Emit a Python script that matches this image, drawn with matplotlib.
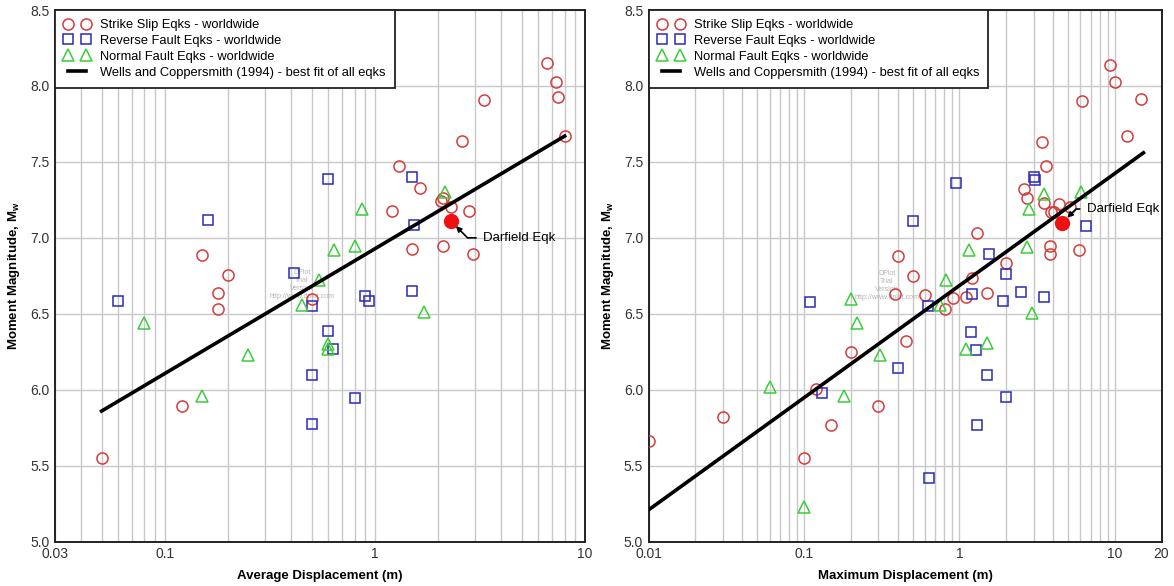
import matplotlib
matplotlib.use("Agg")
import matplotlib.pyplot as plt
from matplotlib.ticker import FixedLocator, FixedFormatter, LogLocator, NullFormatter

plt.rcParams['font.family'] = ['Liberation Sans', 'DejaVu Sans']

# ---- Average displacement (left panel) ----
ad_ss_x = [0.05, 0.121, 0.15, 0.20, 0.18, 0.18, 0.50, 1.30, 1.64, 2.10, 2.06, 2.31,
           2.81, 1.205, 1.50, 2.11, 2.92, 6.57, 7.28, 7.4, 3.32, 8.06, 2.60]
ad_ss_y = [5.55, 5.89, 6.885, 6.757, 6.636, 6.532, 6.60, 7.476, 7.326, 7.26, 7.24, 7.205,
           7.18, 7.18, 6.93, 6.947, 6.894, 8.148, 8.027, 7.926, 7.908, 7.672, 7.637]
ad_rev_x = [0.60, 0.16, 0.06, 0.41, 0.503, 0.60, 1.50, 1.53, 0.90, 0.933, 1.505,
            0.63, 0.50, 0.80, 0.50]
ad_rev_y = [7.386, 7.116, 6.585, 6.77, 6.554, 6.385, 7.40, 7.083, 6.618, 6.585, 6.647,
            6.266, 6.10, 5.946, 5.772]
ad_nor_x = [0.08, 0.64, 0.80, 0.864, 0.543, 0.45, 0.60, 0.595, 2.15, 1.71, 0.25, 0.15]
ad_nor_y = [6.44, 6.92, 6.945, 7.19, 6.72, 6.56, 6.30, 6.268, 7.30, 6.515, 6.23, 5.96]
ad_fit_x = [0.05, 8.0]
ad_fit_y = [5.86, 7.67]
ad_darfield = (2.30, 7.11)

# ---- Maximum displacement (right panel) ----
md_ss_x = [0.01, 0.03, 0.10, 0.12, 0.15, 0.20, 0.30, 0.384, 0.40, 0.45, 0.50, 0.60,
           0.81, 0.906, 1.10, 1.21, 1.30, 1.51, 2.0, 2.61, 2.72, 3.42, 3.53, 3.63,
           3.84, 3.84, 3.88, 4.07, 4.38, 5.16, 5.93, 6.14, 9.34, 10.07, 12.07, 14.8]
md_ss_y = [5.666, 5.82, 5.55, 6.003, 5.77, 6.25, 5.893, 6.632, 6.88, 6.32, 6.75, 6.623,
           6.532, 6.603, 6.614, 6.733, 7.033, 6.64, 6.832, 7.324, 7.262, 7.632, 7.23, 7.472,
           6.944, 6.894, 7.17, 7.17, 7.22, 7.20, 6.923, 7.90, 8.14, 8.027, 7.672, 7.917]
md_rev_x = [0.95, 0.50, 0.11, 1.20, 0.632, 1.18, 1.28, 0.40, 0.13, 0.64, 1.30, 1.50,
            3.0, 3.05, 6.54, 1.56, 2.01, 2.51, 1.91, 3.51, 2.01]
md_rev_y = [7.361, 7.112, 6.58, 6.632, 6.554, 6.382, 6.26, 6.142, 5.98, 5.42, 5.77, 6.10,
            7.40, 7.38, 7.08, 6.894, 6.764, 6.643, 6.583, 6.612, 5.95]
md_nor_x = [0.10, 0.06, 0.18, 0.20, 0.22, 0.31, 0.75, 0.82, 1.10, 1.155, 1.51, 2.72,
            2.81, 2.92, 3.53, 6.08]
md_nor_y = [5.23, 6.018, 5.957, 6.60, 6.44, 6.23, 6.56, 6.72, 6.27, 6.92, 6.306, 6.94,
            7.187, 6.508, 7.288, 7.30]
md_fit_x = [0.01, 15.3]
md_fit_y = [5.21, 7.56]
md_darfield = (4.60, 7.10)

RED = '#d43c3c'
BLUE = '#2b2bb5'
GREEN = '#3ccc3c'
GRID = '#c8c8c8'


def panel(ax, ss, rev, nor, fit, darf, xlim, xticks, xticklabels, xlabel,
          txt_xy, angleB, wm_xy):
    ax.set_xscale('log')
    ax.plot(ss[0], ss[1], 'o', ms=8, mfc='none', mec=RED, mew=1.1,
            label='Strike Slip Eqks - worldwide', zorder=3)
    ax.plot(rev[0], rev[1], 's', ms=7.5, mfc='none', mec=BLUE, mew=1.1,
            label='Reverse Fault Eqks - worldwide', zorder=3)
    ax.plot(nor[0], nor[1], '^', ms=8, mfc='none', mec=GREEN, mew=1.1,
            label='Normal Fault Eqks - worldwide', zorder=3)
    ax.plot(fit[0], fit[1], '-', color='black', lw=2.6,
            label='Wells and Coppersmith (1994) - best fit of all eqks', zorder=4)
    ax.plot([darf[0]], [darf[1]], 'o', ms=10, color='#ee1111', zorder=5)
    ax.annotate('Darfield Eqk', xy=darf, xytext=txt_xy, fontsize=9.5,
                va='center', ha='left',
                arrowprops=dict(arrowstyle='-|>', color='black', lw=1.2,
                                connectionstyle='angle,angleA=0,angleB=%d,rad=0' % angleB,
                                shrinkA=3, shrinkB=5, mutation_scale=8))
    ax.text(wm_xy[0], wm_xy[1], 'DPlot\nTrial\nVersion\nhttp://www.dplot.com',
            fontsize=5, color='#b4b4b4', ha='center', va='center',
            linespacing=1.2, zorder=2)

    ax.set_xlim(*xlim)
    ax.set_ylim(5.0, 8.5)
    ax.xaxis.set_major_locator(FixedLocator(xticks))
    ax.xaxis.set_major_formatter(FixedFormatter(xticklabels))
    ax.xaxis.set_minor_locator(LogLocator(base=10, subs=range(2, 10), numticks=20))
    ax.xaxis.set_minor_formatter(NullFormatter())
    ax.set_yticks([5.0, 5.5, 6.0, 6.5, 7.0, 7.5, 8.0, 8.5])
    ax.set_yticklabels(['5.0', '5.5', '6.0', '6.5', '7.0', '7.5', '8.0', '8.5'])
    ax.grid(True, which='both', axis='x', color=GRID, lw=1.0)
    ax.grid(True, which='major', axis='y', color=GRID, lw=1.0)
    ax.set_axisbelow(True)
    ax.tick_params(which='both', length=0, labelsize=10, colors='#333333', pad=4)
    for s in ax.spines.values():
        s.set_color('#222222')
        s.set_linewidth(1.4)
    ax.set_xlabel(xlabel, fontsize=9.5, fontweight='bold', labelpad=6)
    ax.set_ylabel('Moment Magnitude, M$_\\mathregular{w}$', fontsize=9.5,
                  fontweight='bold', labelpad=6)
    leg = ax.legend(loc='upper left', numpoints=2, fontsize=9.3, frameon=True,
                    fancybox=False, framealpha=1, edgecolor='#222222',
                    borderaxespad=0, borderpad=0.7, labelspacing=0.3,
                    handlelength=2.0, handletextpad=0.8)
    leg.get_frame().set_linewidth(1.3)
    leg.set_zorder(10)


fig = plt.figure(figsize=(11.74, 5.86), dpi=100)
ax1 = fig.add_axes([55 / 1174, 44.3 / 586, 530 / 1174, 531.7 / 586])
ax2 = fig.add_axes([648.7 / 1174, 44.3 / 586, 512.8 / 1174, 531.7 / 586])

panel(ax1, (ad_ss_x, ad_ss_y), (ad_rev_x, ad_rev_y), (ad_nor_x, ad_nor_y),
      (ad_fit_x, ad_fit_y), ad_darfield, (0.03, 10), [0.03, 0.1, 1, 10],
      ['0.03', '0.1', '1', '10'], 'Average Displacement (m)',
      (3.27, 7.0), -45, (0.45, 6.69))
panel(ax2, (md_ss_x, md_ss_y), (md_rev_x, md_rev_y), (md_nor_x, md_nor_y),
      (md_fit_x, md_fit_y), md_darfield, (0.01, 20), [0.01, 0.1, 1, 10, 20],
      ['0.01', '0.1', '1', '10', '20'], 'Maximum Displacement (m)',
      (6.6, 7.19), 45, (0.342, 6.685))

fig.savefig('out.png', dpi=100)
